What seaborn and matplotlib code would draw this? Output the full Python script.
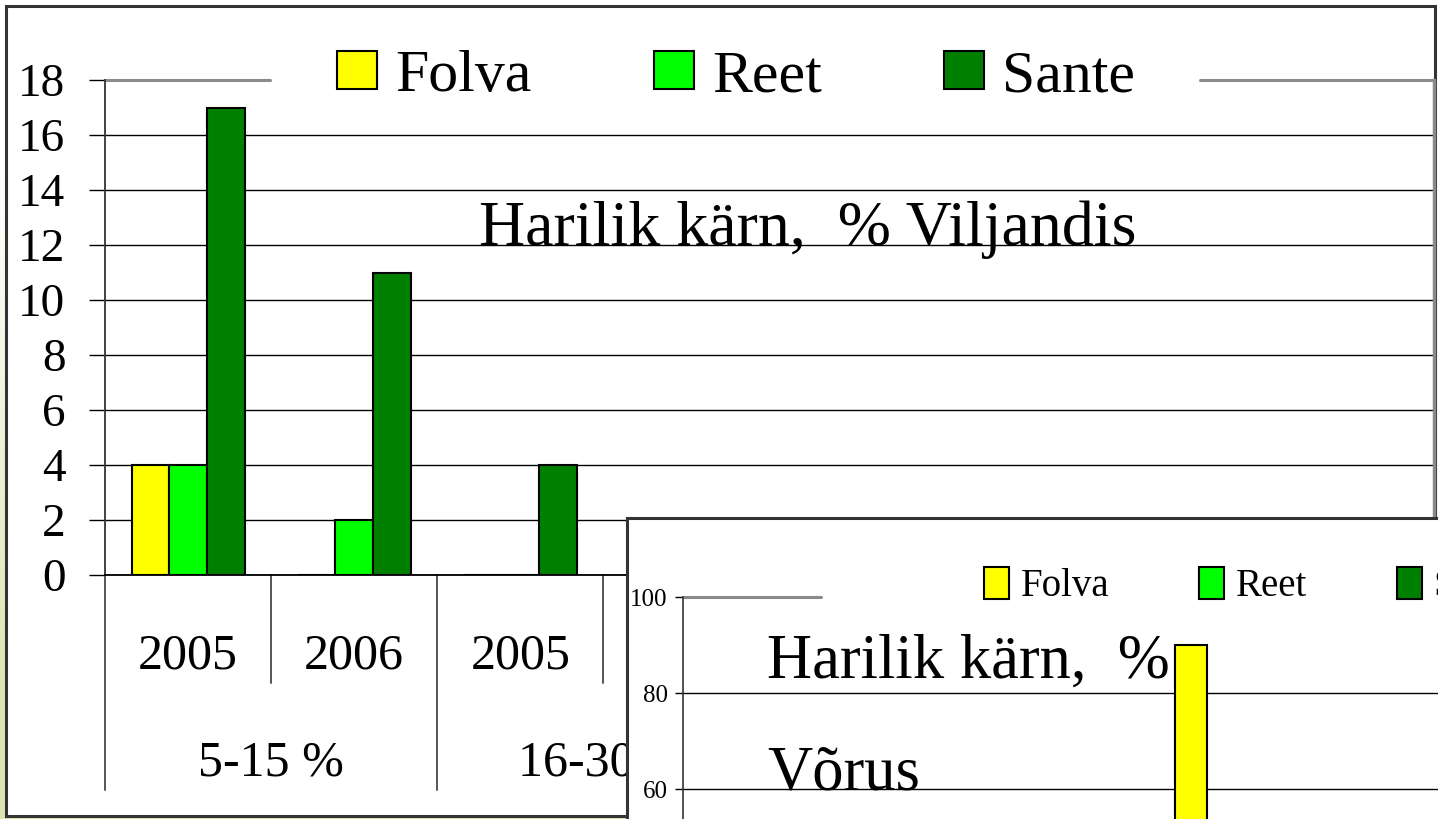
import numpy as np
import pandas as pd
import matplotlib
matplotlib.use("Agg")
import matplotlib.pyplot as plt
import matplotlib.transforms as mtransforms
from matplotlib.patches import Rectangle
import seaborn as sns

# ---------------- data ----------------
cultivars = ["Folva", "Reet", "Sante"]
group_labels = ["5-15 %", "5-15 %", "16-30 %", "16-30 %"]
year_labels = ["2005", "2006", "2005", "2006"]

# Viljandis (first three categories are visible)
vil_category_idx = [0, 1, 2]
vil_folva = [4, 0, 0]
vil_reet = [4, 2, 0]
vil_sante = [17, 11, 4]

# Võrus (only one bar is visible in the picture)
vor_category_idx = [3]
vor_folva = [90]

vil_yticks = list(range(0, 19, 2))
vor_yticks = list(range(60, 101, 20))

title_vil = "Harilik kärn,  % Viljandis"
title_vor_1 = "Harilik kärn,  %"
title_vor_2 = "Võrus"

colors = {"Folva": "#FFFF00", "Reet": "#00FF00", "Sante": "#008000"}

# ---------------- build tables ----------------
cat_keys = [f"{g} {y}" for g, y in zip(group_labels, year_labels)]
rows = []
for i, f, r, s in zip(vil_category_idx, vil_folva, vil_reet, vil_sante):
    rows += [(cat_keys[i], "Folva", f), (cat_keys[i], "Reet", r), (cat_keys[i], "Sante", s)]
df_vil = pd.DataFrame(rows, columns=["category", "cultivar", "value"])
df_vor = pd.DataFrame([(cat_keys[i], "Folva", v) for i, v in zip(vor_category_idx, vor_folva)],
                      columns=["category", "cultivar", "value"])

sns.set_style("white")
plt.rcParams["font.family"] = ["Liberation Serif", "DejaVu Serif"]
plt.rcParams["text.color"] = "black"
plt.rcParams["xtick.color"] = "black"
plt.rcParams["ytick.color"] = "black"
plt.rcParams["axes.labelcolor"] = "black"

W, H = 1438, 819
fig = plt.figure(figsize=(W / 100, H / 100), dpi=100)

# slide background gradient
bg = fig.add_axes([0, 0, 1, 1], zorder=-10)
yy, xx = np.mgrid[0:1:200j, 0:1:300j]
t = np.clip(yy * 1.6 - 0.35, 0, 1) * np.clip(1.4 - xx, 0, 1)
c0 = np.array([1.0, 1.0, 1.0])
c1 = np.array([0.86, 0.90, 0.70])
img = c0[None, None, :] * (1 - t[..., None]) + c1[None, None, :] * t[..., None]
bg.imshow(img, extent=[0, 1, 0, 1], aspect="auto", origin="upper")
bg.axis("off")

def fig_rect(x0, y0, x1, y1, z):
    r = Rectangle((x0 / W, 1 - y1 / H), (x1 - x0) / W, (y1 - y0) / H,
                  transform=fig.transFigure, facecolor="white", edgecolor="#333333",
                  linewidth=2.2, zorder=z)
    fig.patches.append(r)

fig_rect(6, 6, 1435, 816, -5)

# ---------------- main chart (Viljandis) ----------------
ax = fig.add_axes([105 / W, 1 - 575 / H, (1434 - 105) / W, (575 - 80) / H], zorder=0)
ax.set_facecolor("none")
sns.barplot(data=df_vil, x="category", y="value", hue="cultivar", order=cat_keys,
            hue_order=cultivars, palette=colors, saturation=1, width=0.68, dodge=True,
            edgecolor="black", linewidth=1.5, ax=ax, errorbar=None)
ax.set_yticks(vil_yticks)
ax.set_yticklabels([str(v) for v in vil_yticks], fontsize=34)
ax.set_xlim(-0.5, 7.5)
ax.set_ylim(0, 18)
ax.tick_params(axis="y", length=11.5, width=1, color="black", pad=17, direction="out", left=True)
ax.tick_params(axis="x", length=0, labelbottom=False)
ax.set_xlabel("")
ax.set_ylabel("")
ax.set_axisbelow(True)
ax.grid(axis="y", color="black", linewidth=1)
ax.get_ygridlines()[-1].set_visible(False)
ax.axhline(18, 0, 0.124, color="#8a8a8a", linewidth=2.2, clip_on=False)
ax.axhline(18, 0.824, 1, color="#8a8a8a", linewidth=2.2, clip_on=False)
ax.spines["top"].set_visible(False)
ax.spines["right"].set_color("#8a8a8a")
ax.spines["right"].set_linewidth(2.5)
ax.spines["left"].set_color("#333333")
ax.spines["left"].set_linewidth(1.3)
ax.spines["bottom"].set_color("black")
ax.spines["bottom"].set_linewidth(1.3)

# clip region for the category labels: left of the inset panel
clip_bbox = mtransforms.Bbox.from_extents(0, 0, 627, H)

trans = mtransforms.blended_transform_factory(ax.transData, ax.transAxes)
n = len(cat_keys)
for i in range(n):
    tx = ax.text(i, -0.165, year_labels[i], transform=trans, ha="center", va="center",
                 fontsize=36)
    tx.set_clip_box(clip_bbox)
    tx.set_clip_on(True)
groups_unique = []
for g in group_labels:
    if g not in groups_unique:
        groups_unique.append(g)
for gi, g in enumerate(groups_unique):
    idx = [i for i, gg in enumerate(group_labels) if gg == g]
    tx = ax.text(np.mean(idx), -0.38, g, transform=trans, ha="center", va="center",
                 fontsize=36)
    tx.set_clip_box(clip_bbox)
    tx.set_clip_on(True)
    ax.plot([idx[0] - 0.5] * 2, [0, -0.434], transform=trans, color="#555555",
            linewidth=1.4, clip_on=False)
    for j in idx[1:]:
        ax.plot([j - 0.5] * 2, [0, -0.218], transform=trans, color="#555555",
                linewidth=1.4, clip_on=False)
ax.plot([n - 0.5] * 2, [0, -0.218], transform=trans, color="#555555", linewidth=1.4, clip_on=False)

handles, labels = ax.get_legend_handles_labels()
ax.legend(handles, labels, loc="center left", bbox_to_anchor=((337 - 105) / 1329, (575 - 77) / 495),
          ncol=3, frameon=False, fontsize=43, handlelength=0.67, handleheight=0.59,
          handletextpad=0.31, columnspacing=2.04, borderpad=0, borderaxespad=0)

ax.text(0.529, (575 - 245) / 495, title_vil, transform=ax.transAxes, ha="center",
        va="baseline", fontsize=46)

# ---------------- inset chart (Võrus) ----------------
fig_rect(627, 518, 1460, 840, 5)
ax2_bottom_px = 822
ax2 = fig.add_axes([683 / W, 1 - ax2_bottom_px / H, 1234 / W, (ax2_bottom_px - 597) / H], zorder=6)
ax2.set_facecolor("none")
sns.barplot(data=df_vor, x="category", y="value", hue="cultivar", order=cat_keys,
            hue_order=cultivars, palette=colors, saturation=1, width=0.622, dodge=True,
            edgecolor="black", linewidth=1.5, ax=ax2, errorbar=None)
ax2.set_yticks(vor_yticks)
ax2.set_yticklabels([str(v) for v in vor_yticks], fontsize=18)
ax2.set_xlim(-0.5, 7.5)
ax2.set_ylim(100 - (ax2_bottom_px - 597) / 96 * 20, 100)
ax2.tick_params(axis="y", length=6, width=1, color="black", pad=5, direction="out", left=True)
ax2.tick_params(axis="x", length=0, labelbottom=False)
ax2.set_xlabel("")
ax2.set_ylabel("")
ax2.set_axisbelow(True)
ax2.grid(axis="y", color="black", linewidth=1)
for gl, v in zip(ax2.get_ygridlines(), ax2.get_yticks()):
    if v >= 100:
        gl.set_visible(False)
ax2.axhline(100, 0, (821 - 683) / 1234, color="#8a8a8a", linewidth=2.2, clip_on=False)
for s in ["top", "right", "bottom"]:
    ax2.spines[s].set_visible(False)
ax2.spines["left"].set_color("#333333")
ax2.spines["left"].set_linewidth(1.2)

h2, l2 = ax2.get_legend_handles_labels()
ax2.legend(h2, l2, loc="center left",
           bbox_to_anchor=((984 - 683) / 1234, (ax2_bottom_px - 586) / (ax2_bottom_px - 597)),
           ncol=3, frameon=False, fontsize=28, handlelength=0.65, handleheight=0.9,
           handletextpad=0.3, columnspacing=2.3, borderpad=0, borderaxespad=0)

ax2.text((767 - 683) / 1234, (ax2_bottom_px - 678) / (ax2_bottom_px - 597), title_vor_1,
         transform=ax2.transAxes, ha="left", va="baseline", fontsize=45)
ax2.text((767 - 683) / 1234, (ax2_bottom_px - 790) / (ax2_bottom_px - 597), title_vor_2,
         transform=ax2.transAxes, ha="left", va="baseline", fontsize=45)

fig.savefig("out.png", dpi=100)
